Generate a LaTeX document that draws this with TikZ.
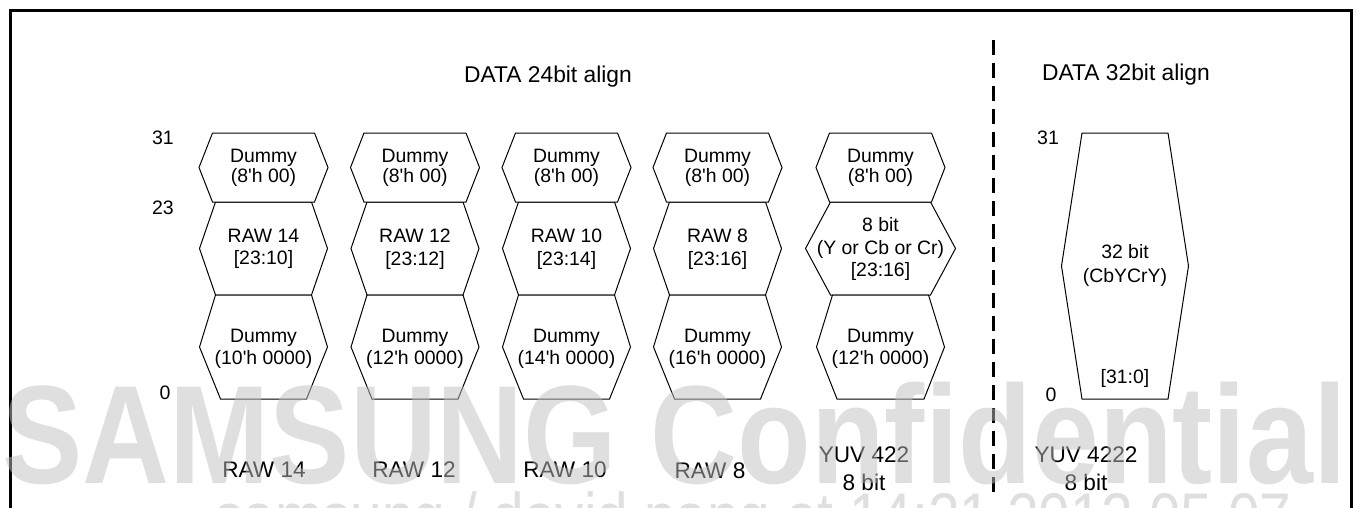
\documentclass[tikz,border=0pt]{standalone}
\usepackage{fontspec}
\setmainfont{Liberation Sans}[Ligatures=TeXOff]
\newcommand\hexshape[6]{%
  \draw[hexline] ({#1-#4},#2) -- ({#1+#4},#2) -- ({#1+#5},{(#2+#3)/2}) -- ({#1+#6},#3)
    -- ({#1-#6},#3) -- ({#1-#5},{(#2+#3)/2}) -- cycle;}
\begin{document}
\begin{tikzpicture}[x=1pt,y=-1pt,
  hexline/.style={draw=black, line width=1pt, fill=white, line join=miter},
  hextext/.style={align=center, inner sep=0pt, font=\fontsize{19.4}{22.5}\selectfont},
  hextop/.style={align=center, inner sep=0pt, font=\fontsize{19.4}{20.5}\selectfont},
  bitlabel/.style={inner sep=0pt, font=\fontsize{19.5}{22}\selectfont},
  title/.style={inner sep=0pt, font=\fontsize{22.8}{26}\selectfont},
  fmtlabel/.style={align=center, inner sep=0pt, font=\fontsize{22.6}{28}\selectfont},
  frameline/.style={draw=black, line width=3pt},
  divider/.style={draw=black, line width=3pt, dash pattern=on 15pt off 8pt},
  watermark/.style={inner sep=0pt, text=black!25, text opacity=0.5, anchor=base west}
]
\useasboundingbox (0,0) rectangle (1357,507);
% frame
\coordinate (fbl) at (10,510);
\coordinate (ftl) at (10,10);
\coordinate (ftr) at (1351,10);
\coordinate (fbr) at (1351,510);
\draw[frameline] (fbl) -- (ftl) -- (ftr) -- (fbr);
% divider
\coordinate (dtop) at (993,40);
\coordinate (dbot) at (993,492);
\draw[divider] (dtop) -- (dbot);

% titles
\node[title] (t24) at (548,77) {DATA 24bit align};
\node[title] (t32) at (1126,75) {DATA 32bit align};

% bit labels
\node[bitlabel] (l31) at (163,138) {31};
\node[bitlabel] (l23) at (163,208) {23};
\node[bitlabel] (l0) at (165,393) {0};
\node[bitlabel] (r31) at (1048,138) {31};
\node[bitlabel] (r0) at (1051,395) {0};

% columns 1-4
\foreach \cx in {263.5,415,566.5,717.5}{
  \hexshape{\cx}{202}{295}{48}{64}{48}
  \hexshape{\cx}{133}{202}{51}{64.5}{51}
  \hexshape{\cx}{295}{399}{48}{64}{43}
}
% column 5
\hexshape{880.5}{202}{295}{50}{75}{50}
\hexshape{880.5}{133}{202}{51}{64.5}{51}
\hexshape{880.5}{295}{399}{48}{64}{43.5}
% column 6
\hexshape{1125}{133}{399}{43}{63.5}{43}

% texts
\node[hextop] (d1a) at (263.5,168) {Dummy\\(8'h 00)};
\node[hextop] (d2a) at (415,168) {Dummy\\(8'h 00)};
\node[hextop] (d3a) at (566.5,168) {Dummy\\(8'h 00)};
\node[hextop] (d4a) at (717.5,168) {Dummy\\(8'h 00)};
\node[hextop] (d5a) at (880.5,168) {Dummy\\(8'h 00)};

\node[hextext] (r14) at (263.5,249) {RAW 14\\{}[23:10]};
\node[hextext] (r12) at (415,249) {RAW 12\\{}[23:12]};
\node[hextext] (r10) at (566.5,249) {RAW 10\\{}[23:14]};
\node[hextext] (r8) at (717.5,249) {RAW 8\\{}[23:16]};
\node[hextext] (y8) at (880.5,249) {8 bit\\(Y or Cb or Cr)\\{}[23:16]};

\node[hextext] (d1b) at (263.5,349) {Dummy\\(10'h 0000)};
\node[hextext] (d2b) at (415,349) {Dummy\\(12'h 0000)};
\node[hextext] (d3b) at (566.5,349) {Dummy\\(14'h 0000)};
\node[hextext] (d4b) at (717.5,349) {Dummy\\(16'h 0000)};
\node[hextext] (d5b) at (880.5,349) {Dummy\\(12'h 0000)};

\node[hextext, font=\fontsize{19.4}{24}\selectfont] (c32) at (1125,265) {32 bit\\(CbYCrY)};
\node[hextext] (c32r) at (1125,378) {[31:0]};

% format labels
\node[fmtlabel] (f14) at (264,470) {RAW 14};
\node[fmtlabel] (f12) at (414,470) {RAW 12};
\node[fmtlabel] (f10) at (565,470) {RAW 10};
\node[fmtlabel] (f8) at (710,471) {RAW 8};
\node[fmtlabel] (fy1) at (864,469) {YUV 422\\8 bit};
\node[fmtlabel] (fy2) at (1086,469) {YUV 4222\\8 bit};

% watermark overlay
\node[watermark, xscale=0.86] (wm1) at (2,483) {\fontsize{140}{140}\selectfont\bfseries SAMSUNG Confidential};
\node[watermark, xscale=0.86] (wm2) at (215,539) {\fontsize{66}{66}\selectfont samsung / david.pang at 14:21 2012.05.07};
\end{tikzpicture}
\end{document}
